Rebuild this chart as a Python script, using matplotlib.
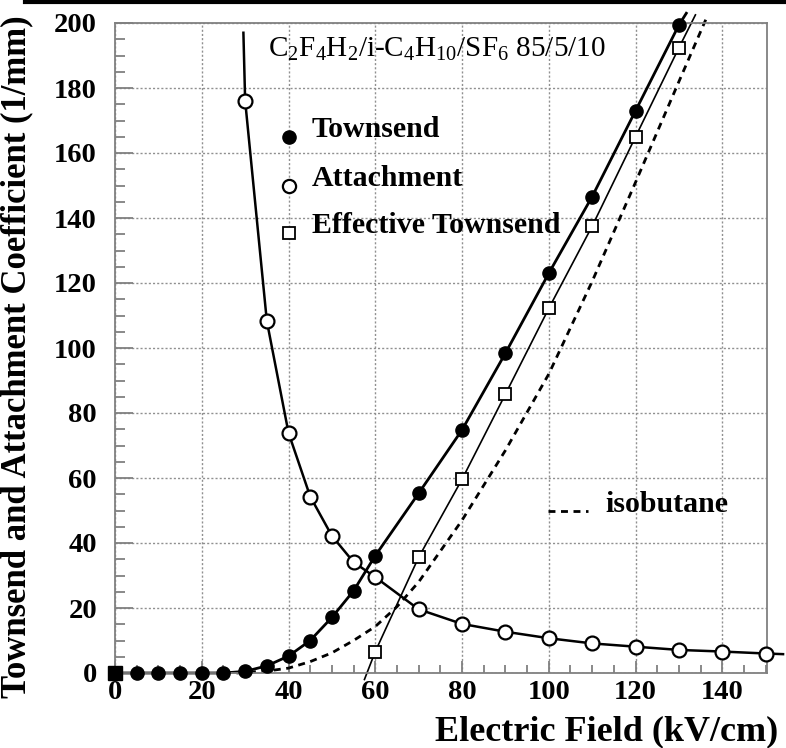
import numpy as np
import matplotlib
matplotlib.use("Agg")
import matplotlib.pyplot as plt
from matplotlib.ticker import MultipleLocator
from matplotlib.lines import Line2D

plt.rcParams['font.family'] = ['Liberation Serif', 'DejaVu Serif']
plt.rcParams['mathtext.fontset'] = 'custom'
plt.rcParams['mathtext.rm'] = 'Liberation Serif'
plt.rcParams['mathtext.it'] = 'Liberation Serif:italic'
plt.rcParams['mathtext.bf'] = 'Liberation Serif:bold'

# Townsend coefficient (1/mm) vs field (kV/cm)
town_x = [0, 5, 10, 15, 20, 25, 30, 35, 40, 45, 50, 55, 60, 70, 80, 90, 100, 110, 120, 130]
town_y = [0, 0, 0, 0, 0, 0, 0.5, 2.2, 5.2, 10.0, 17.1, 25.3, 36.1, 55.3, 74.8, 98.4, 123.0, 146.6, 173.0, 199.4]

# attachment coefficient
att_x = [30, 35, 40, 45, 50, 55, 60, 70, 80, 90, 100, 110, 120, 130, 140, 150]
att_y = [176.1, 108.3, 73.9, 54.3, 42.2, 34.1, 29.5, 19.6, 15.1, 12.7, 10.7, 9.1, 8.1, 7.1, 6.6, 6.0]

# effective Townsend (Townsend - attachment)
eff_x = [0, 60, 70, 80, 90, 100, 110, 120, 130]
eff_y = [0, 6.6, 35.6, 59.6, 85.8, 112.2, 137.5, 165.0, 192.4]

# ends of the fitted curves outside the measured points
town_end_x, town_end_y = [131.7], [203.0]
att_start_x, att_start_y = [29.6], [197.0]
att_end_x, att_end_y = [154.0], [5.8]
eff_start_x, eff_start_y = [57.5], [-2.0]
eff_end_x, eff_end_y = [133.8], [202.5]

# pure isobutane Townsend coefficient
iso_x = [28, 30, 35, 40, 45, 50, 55, 60, 65, 70, 80, 90, 100, 110, 120, 130, 136.5]
iso_y = [0, 0.2, 0.6, 1.5, 3.5, 6.2, 10.0, 14.3, 20.4, 28.0, 47.0, 68.5, 92.0, 120.5, 151.0, 182.0, 202.0]

fig = plt.figure(figsize=(7.86, 7.48), dpi=100)
ax = fig.add_axes([115/786, 1 - 673/748, 652/786, 650/748])
ax.set_xlim(0, 150.3)
ax.set_ylim(0, 200)

frame = '#808080'
for s in ax.spines.values():
    s.set_color(frame)
    s.set_linewidth(1.3)

ax.xaxis.set_major_locator(MultipleLocator(20))
ax.xaxis.set_minor_locator(MultipleLocator(5))
ax.yaxis.set_major_locator(MultipleLocator(20))
ax.yaxis.set_minor_locator(MultipleLocator(5))
ax.tick_params(which='both', direction='in', color=frame, width=1.3, top=False, right=False)
ax.tick_params(which='major', length=13)
ax.tick_params(which='minor', length=7)
ax.tick_params(axis='x', which='major', length=9, pad=5)
ax.tick_params(axis='x', which='minor', length=6)
ax.tick_params(axis='y', pad=13)
for lab in ax.get_xticklabels() + ax.get_yticklabels():
    lab.set_fontsize(20.5)
    lab.set_fontweight('bold')
ax.grid(True, which='major', color='#909090', linestyle=(0, (1.5, 1.5)), linewidth=1.0)
ax.set_axisbelow(True)

ms = 9.5
# fitted curves
ax.plot(town_x + town_end_x, town_y + town_end_y, '-', color='k', lw=2.0, clip_on=False)
ax.plot(att_start_x + att_x + att_end_x, att_start_y + att_y + att_end_y, '-', color='k', lw=1.8, clip_on=False)
ax.plot(eff_start_x + eff_x[1:] + eff_end_x, eff_start_y + eff_y[1:] + eff_end_y, '-', color='k', lw=1.2, clip_on=False)
ax.plot(iso_x, iso_y, color='k', lw=2.0, linestyle=(0, (2.5, 2)), clip_on=False)

# measured points
ax.plot(town_x, town_y, 'o', color='k', ms=ms, clip_on=False, zorder=5)
ax.plot(att_x, att_y, 'o', mfc='white', mec='k', mew=1.6, ms=ms + 0.5, clip_on=False, zorder=5)
ax.plot(eff_x[1:], eff_y[1:], 's', mfc='white', mec='k', mew=1.3, ms=ms - 0.5, clip_on=False, zorder=5)
ax.plot(eff_x[:1], eff_y[:1], 's', color='k', ms=ms, clip_on=False, zorder=6)

# legend and labels
tf = ax.transAxes
ax.text(0.235, 0.948, r'C$_2$F$_4$H$_2$/i-C$_4$H$_{10}$/SF$_6$ 85/5/10', transform=tf,
        fontsize=21, va='baseline', ha='left')
items = [('Townsend', 0.825, dict(marker='o', color='k', ms=ms)),
         ('Attachment', 0.749, dict(marker='o', mfc='white', mec='k', mew=1.6, ms=ms)),
         ('Effective Townsend', 0.677, dict(marker='s', mfc='white', mec='k', mew=1.3, ms=ms - 1))]
for name, yy, style in items:
    ax.plot([0.267], [yy], transform=tf, linestyle='none', **style)
    ax.text(0.302, yy, name, transform=tf, fontsize=21.5, fontweight='bold', va='baseline', ha='left')
ax.plot([0.664, 0.725], [0.249, 0.249], transform=tf, color='k', lw=2.0, linestyle=(0, (2.5, 2)))
ax.text(0.752, 0.248, 'isobutane', transform=tf, fontsize=21.5, fontweight='bold', va='baseline', ha='left')

fig.text(778/786, 1 - 740/748, 'Electric Field (kV/cm)', fontsize=26, fontweight='bold',
         ha='right', va='baseline')
fig.text(17/786, 1 - 357/748, 'Townsend and Attachment Coefficient (1/mm)', fontsize=25,
         fontweight='bold', rotation=90, ha='center', va='center')

# heavy rule across the top of the page
fig.add_artist(Line2D([25/786, 1], [1 - 2/748, 1 - 2/748], color='k', lw=3, transform=fig.transFigure))

fig.savefig('out.png', dpi=100)
